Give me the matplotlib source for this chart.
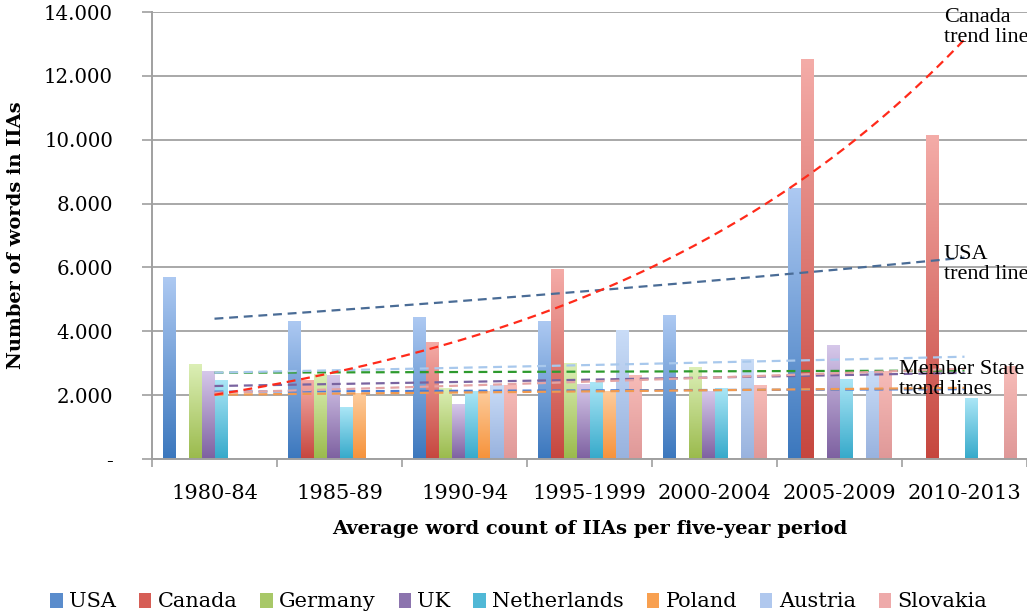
import numpy as np
import matplotlib
matplotlib.use("Agg")
import matplotlib.pyplot as plt
from matplotlib.colors import LinearSegmentedColormap
from matplotlib.patches import Patch

periods = ["1980-84", "1985-89", "1990-94", "1995-1999", "2000-2004", "2005-2009", "2010-2013"]
series_names = ["USA", "Canada", "Germany", "UK", "Netherlands", "Poland", "Austria", "Slovakia"]
nan = np.nan
usa         = [5670, 4300, 4440, 4320, 4480, 8480, nan]
canada      = [nan, 2450, 3660, 5920, nan, 12500, 10120]
germany     = [2975, 2660, 2210, 3000, 2860, nan, nan]
uk          = [2735, 2630, 1720, 2320, 2110, 3570, nan]
netherlands = [2450, 1620, 2110, 2390, 2210, 2500, 1910]
poland      = [nan, 2040, 2100, 2110, nan, nan, nan]
austria     = [nan, nan, 2290, 4040, 3130, 2740, nan]
slovakia    = [nan, nan, 2290, 2600, 2300, 2740, 2890]
data = [usa, canada, germany, uk, netherlands, poland, austria, slovakia]

# gradient colours (bottom, top) and trend colours
grad_cols = [("#3b77bd", "#adc9f2"), ("#c6463e", "#f4aca8"), ("#9aba4c", "#dcefb6"),
             ("#7d60a0", "#d6c8ea"), ("#35a9ca", "#abe6f6"), ("#f6923a", "#fdcc9c"),
             ("#98b2de", "#c9dcf7"), ("#df9898", "#f7bcb8")]
legend_cols = ["#5a8ccc", "#d65e56", "#a8c868", "#8c74ae", "#50b8d6", "#f8a050", "#b0c8ee", "#eeaaaa"]
trend_cols = ["#4a6c96", "#ff2a1a", "#2e9a2e", "#7a64a0", "#4a7ed8", "#f09a50", "#a8c8ec", "#e4a4a4"]

fig = plt.figure(figsize=(10.27, 6.13), dpi=100)
ax = fig.add_axes([152/1027, 1-459/613, 875/1027, 447/613])

n = len(series_names)
w = 0.104
x = np.arange(len(periods))
cam = ["DejaVu Serif"]
times = ["Liberation Serif", "DejaVu Serif"]

for i, vals in enumerate(data):
    v = np.array(vals, dtype=float)
    h = np.nan_to_num(v, nan=0.0)
    bars = ax.bar(x + (i - (n - 1) / 2) * w, h, width=w, color="none", linewidth=0, zorder=2)
    cmap = LinearSegmentedColormap.from_list("g%d" % i, list(grad_cols[i]))
    grad = np.linspace(0, 1, 256).reshape(-1, 1)
    for r in bars:
        if r.get_height() > 0:
            x0 = r.get_x()
            ax.imshow(grad, extent=[x0, x0 + r.get_width(), 0, r.get_height()], origin="lower",
                      cmap=cmap, aspect="auto", zorder=2, interpolation="bilinear")

# exponential trend lines fitted to each series
xs = np.linspace(0, 6, 200)
order = [2, 3, 4, 5, 6, 7, 0, 1]
for i in order:
    v = np.array(data[i], dtype=float)
    m = ~np.isnan(v)
    b, lna = np.polyfit(x[m], np.log(v[m]), 1)
    ax.plot(xs, np.exp(lna + b * xs), color=trend_cols[i], lw=1.6, ls=(0, (4, 2.6)), zorder=3)

ax.set_xlim(-0.5, 6.5)
ax.set_ylim(0, 14000)
ax.set_yticks(np.arange(0, 14001, 2000))
ax.set_yticklabels(["-"] + ["{:,}".format(t).replace(",", ".") for t in range(2000, 14001, 2000)],
                   fontfamily=cam, fontsize=14.2)
ax.set_xticks(x)
ax.set_xticklabels(periods, fontfamily=cam, fontsize=15)
ax.set_xticks(np.arange(-0.5, 7, 1), minor=True)
ax.tick_params(axis="x", which="major", length=0, pad=18)
ax.tick_params(axis="x", which="minor", length=6, color="#a0a0a0", width=1.2)
ax.tick_params(axis="y", length=7, color="#a0a0a0", width=1.2, pad=21)
ax.grid(axis="y", color="#a8a8a8", lw=1.4, zorder=1)
ax.set_axisbelow(True)
for s in ["top", "right"]:
    ax.spines[s].set_visible(False)
for s in ["left", "bottom"]:
    ax.spines[s].set_color("#a0a0a0")
    ax.spines[s].set_linewidth(1.4)

ax.set_ylabel("Number of words in IIAs", fontfamily=cam, fontsize=14, fontweight="bold")
ax.yaxis.set_label_coords(16/1027, 1-235/613, transform=fig.transFigure)
ax.yaxis.label.set_va("center")
ax.set_xlabel("Average word count of IIAs per five-year period", fontfamily=cam, fontsize=14,
              fontweight="bold")
ax.xaxis.set_label_coords(590/1027, 1-529/613, transform=fig.transFigure)
ax.xaxis.label.set_va("center")

tfont = dict(fontfamily=times, fontsize=16, va="top", ha="left", linespacing=1.05)
fig.text(944/1027, 1-8/613, "Canada\ntrend line", **tfont)
fig.text(944/1027, 1-245/613, "USA\ntrend line", **tfont)
fig.text(899/1027, 1-360/613, "Member State\ntrend lines", **tfont)

handles = [Patch(facecolor=c, edgecolor="none") for c in legend_cols]
fig.legend(handles, series_names, loc="center", bbox_to_anchor=(0.505, 0.018), ncol=8, frameon=False,
           handlelength=0.6, handleheight=0.75, handletextpad=0.3, columnspacing=1.1,
           prop=dict(family=cam, size=15))

fig.savefig("out.png", dpi=100)
